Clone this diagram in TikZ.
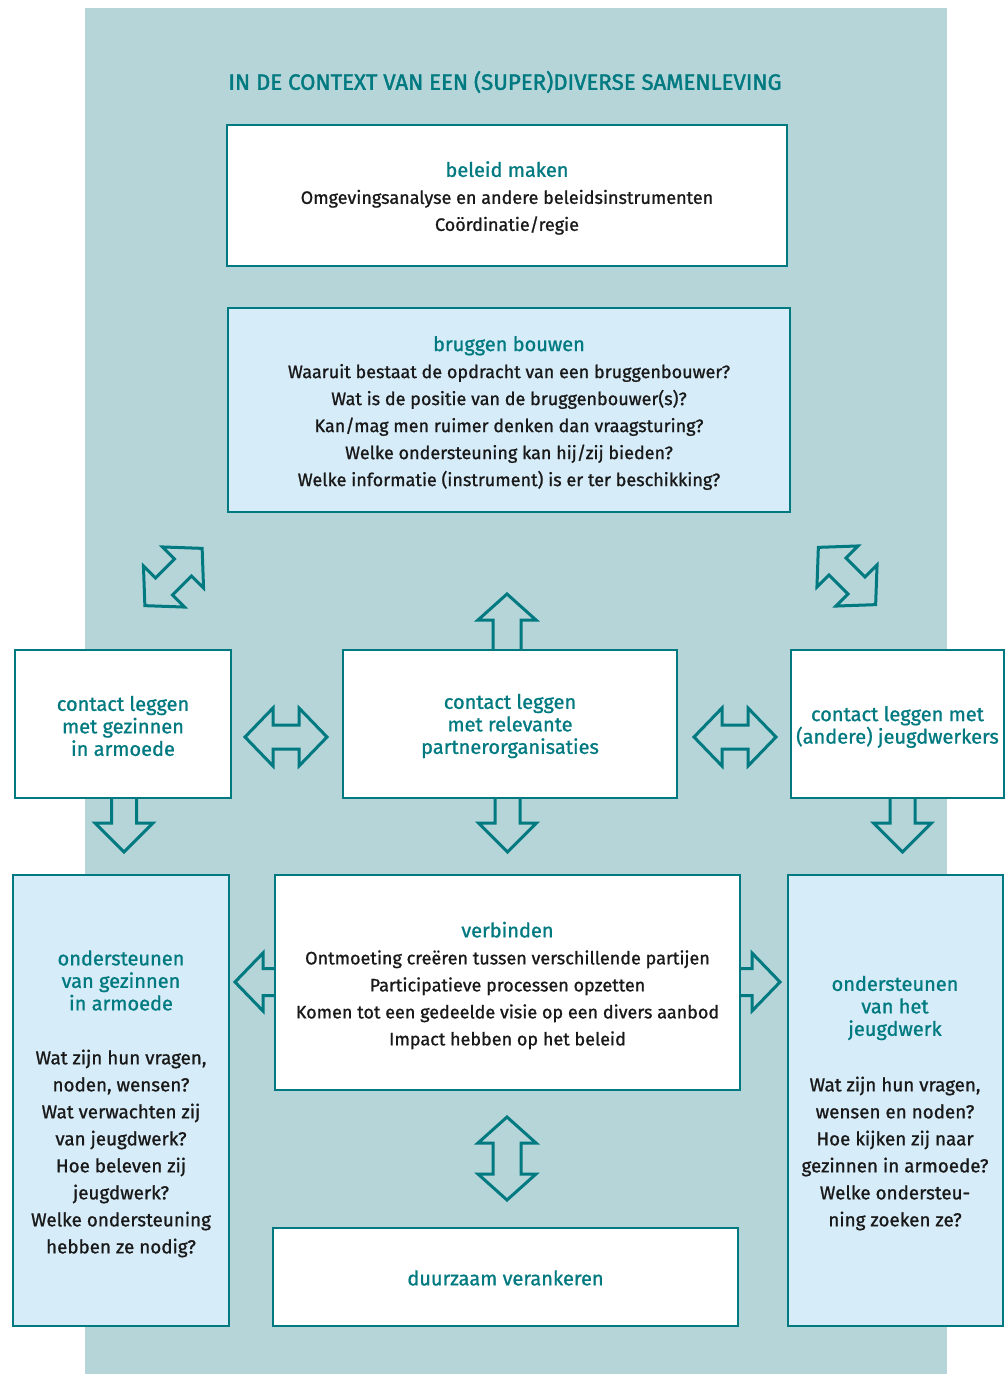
\documentclass[tikz,border=0pt]{standalone}
\usepackage{fontspec}
\setmainfont{Fira Sans}
\newfontfamily\medf{Fira Sans}[FakeBold=1]
\newfontfamily\titf{Fira Sans}[FakeBold=1.8]
\definecolor{tealc}{RGB}{0,122,128}
\definecolor{bgc}{RGB}{181,213,217}
\definecolor{lbc}{RGB}{214,236,248}
\newcommand\dblarr[7]{\begin{scope}[shift={(#1,#2)},rotate=#3]
\filldraw[arrstyle] (-#4,0)--(-#4+#5,#6)--(-#4+#5,#7)--(#4-#5,#7)--(#4-#5,#6)--(#4,0)--(#4-#5,-#6)--(#4-#5,-#7)--(-#4+#5,-#7)--(-#4+#5,-#6)--cycle;
\end{scope}}
\newcommand\sarr[7]{\begin{scope}[shift={(#1,#2)},rotate=#3]
\fill[bgc] (0,#7)--(#4-#5,#7)--(#4-#5,#6)--(#4,0)--(#4-#5,-#6)--(#4-#5,-#7)--(0,-#7)--cycle;
\draw[arrstyle] (0,#7)--(#4-#5,#7)--(#4-#5,#6)--(#4,0)--(#4-#5,-#6)--(#4-#5,-#7)--(0,-#7);
\end{scope}}
\begin{document}
\begin{tikzpicture}[x=1pt,y=-1pt,
  arrstyle/.style={draw=tealc,fill=bgc,line width=3pt,line join=miter},
  wbox/.style={draw=tealc,line width=2pt,fill=white,inner sep=0pt},
  bbox/.style={wbox,fill=lbc},
  bodyf/.style={font=\medf\fontsize{18}{27}\selectfont,text=black!90},
  sbodyf/.style={font=\medf\fontsize{18.8}{27}\selectfont,text=black!90},
  headf/.style={font=\medf\fontsize{20}{22.5}\selectfont,text=tealc},
  txt/.style={inner sep=0pt,align=center}]
\useasboundingbox (0,0) rectangle (1006,1374);
\fill[bgc] (85,8) rectangle (947,1374);
\node[txt,font=\titf\fontsize{22.2}{24}\selectfont,text=tealc] (title) at (505,82) {IN DE CONTEXT VAN EEN (SUPER)DIVERSE SAMENLEVING};
% arrows
\dblarr{173.5}{577}{45}{40.5}{27}{29}{12}
\dblarr{847}{576}{-45}{40.5}{27}{29}{12}
\sarr{507}{650}{90}{56}{26}{29}{14}
\dblarr{286}{737}{0}{41}{28}{29}{12}
\dblarr{735}{737}{0}{41}{28}{29}{12}
\sarr{124}{798}{-90}{54}{29}{29}{12.5}
\sarr{507.5}{798}{-90}{54}{29}{29}{12.5}
\sarr{902.5}{798}{-90}{54}{29}{29}{12.5}
\sarr{275}{982}{180}{40}{28}{29}{13.5}
\sarr{740}{982}{0}{40}{28}{29}{13.5}
\dblarr{507}{1158.5}{90}{41.5}{26}{29}{14}
% boxes
\node[wbox,minimum width=560,minimum height=141] (beleid) at (507,195.5) {};
\node[txt,bodyf] (beleidt) at ([yshift=-2.5pt]beleid.center)
  {{\fontsize{20}{27}\selectfont\color{tealc}beleid maken}\\Omgevingsanalyse en andere beleidsinstrumenten\\Coördinatie/regie};
\node[bbox,minimum width=562,minimum height=204] (brug) at (509,410) {};
\node[txt,bodyf] (brugt) at ([yshift=-3pt]brug.center)
  {{\fontsize{20}{27}\selectfont\color{tealc}bruggen bouwen}\\Waaruit bestaat de opdracht van een bruggenbouwer?\\Wat is de positie van de bruggenbouwer(s)?\\Kan/mag men ruimer denken dan vraagsturing?\\Welke ondersteuning kan hij/zij bieden?\\Welke informatie (instrument) is er ter beschikking?};
\node[wbox,minimum width=216,minimum height=148] (cgez) at (123,724) {};
\node[txt,headf] (cgezt) at ([yshift=-2pt]cgez.center) {contact leggen\\met gezinnen\\in armoede};
\node[wbox,minimum width=334,minimum height=148] (cpart) at (510,724) {};
\node[txt,headf] (cpartt) at ([yshift=-2pt]cpart.center) {contact leggen\\met relevante\\partnerorganisaties};
\node[wbox,minimum width=213,minimum height=148] (cjeugd) at (897.5,724) {};
\node[txt,headf] (cjeugdt) at ([yshift=-3pt]cjeugd.center) {contact leggen met\\(andere) jeugdwerkers};
\node[bbox,minimum width=216,minimum height=451] (ogez) at (121,1100.5) {};
\node[txt,headf] (ogezh) at (121,980.5) {ondersteunen\\van gezinnen\\in armoede};
\node[txt,sbodyf] (ogezb) at (121,1153.5) {Wat zijn hun vragen,\\noden, wensen?\\Wat verwachten zij\\van jeugdwerk?\\Hoe beleven zij\\jeugdwerk?\\Welke ondersteuning\\hebben ze nodig?};
\node[wbox,minimum width=465,minimum height=215] (verb) at (507.5,982.5) {};
\node[txt,bodyf] (verbt) at ([yshift=-3pt]verb.center)
  {{\fontsize{20}{27}\selectfont\color{tealc}verbinden}\\Ontmoeting creëren tussen verschillende partijen\\Participatieve processen opzetten\\Komen tot een gedeelde visie op een divers aanbod\\Impact hebben op het beleid};
\node[bbox,minimum width=215,minimum height=451] (ojeugd) at (895.5,1100.5) {};
\node[txt,headf] (ojeugdh) at (895,1008) {ondersteunen\\van het\\jeugdwerk};
\node[txt,sbodyf] (ojeugdb) at (895,1153.5) {Wat zijn hun vragen,\\wensen en noden?\\Hoe kijken zij naar\\gezinnen in armoede?\\Welke ondersteu-\\ning zoeken ze?};
\node[wbox,minimum width=465,minimum height=98] (duur) at (505.5,1277) {};
\node[txt,headf] (duurt) at ([yshift=-1pt]duur.center) {duurzaam verankeren};
\end{tikzpicture}
\end{document}
